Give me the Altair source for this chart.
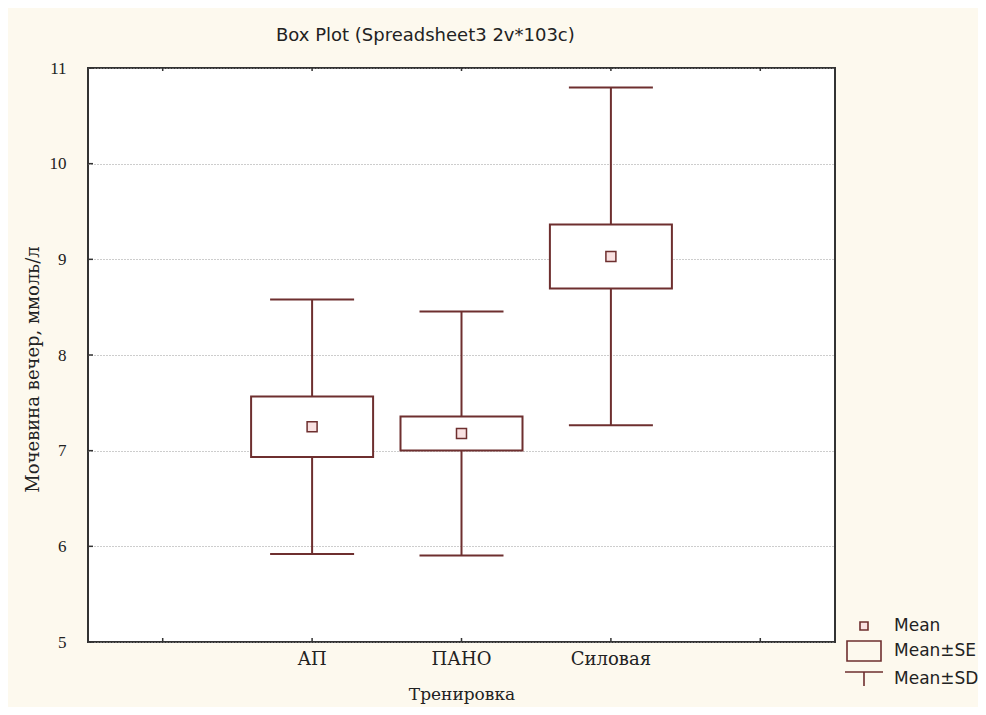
import altair as alt
import pandas as pd

# ---- data ----
categories = ["АП", "ПАНО", "Силовая"]
means = [7.25, 7.18, 9.03]
se = [0.315, 0.178, 0.335]
sd = [1.33, 1.275, 1.765]

slots = ["L0", "АП", "ПАНО", "Силовая", "R0"]   # two empty slots at the ends
y_ticks = [5, 6, 7, 8, 9, 10, 11]

legend_items = ["Mean", "Mean±SE", "Mean±SD"]
legend_shapes = [
    "M-0.4,-0.4H0.4V0.4H-0.4Z",
    "M-1.7,-1H1.7V1H-1.7Z",
    "M-1.9,-0.7H1.9M0,-0.7V0.7",
]
legend_fills = ["#f9e1e1", "transparent", "transparent"]

COL = "#6e2f2f"
W, H = 747, 574
SERIF = "DejaVu Serif"
SANS = "DejaVu Sans"

df = pd.DataFrame({"cat": categories, "mean": means, "se": se, "sd": sd})
df["se_lo"] = df["mean"] - df["se"]
df["se_hi"] = df["mean"] + df["se"]
df["sd_lo"] = df["mean"] - df["sd"]
df["sd_hi"] = df["mean"] + df["sd"]
df["legend"] = "Mean"

xscale = alt.Scale(domain=slots, paddingInner=0, paddingOuter=0)
xax = alt.Axis(
    title="Тренировка",
    labelExpr="(datum.label == 'L0' || datum.label == 'R0') ? '' : datum.label",
    ticks=False, tickSize=0, domain=False, grid=False,
    labelAngle=0, labelFont=SERIF, labelFontSize=18, labelColor="#222",
    labelPadding=8, titleFont=SERIF, titleFontSize=17,
    titleFontWeight="normal", titleColor="#222", titlePadding=18,
)
yscale = alt.Scale(domain=[5, 11], nice=False, zero=False)
yax = alt.Axis(
    title="Мочевина вечер, ммоль/л", values=y_ticks, format="d",
    ticks=False, tickSize=0, domain=False, grid=True,
    gridColor="#9a9a9a", gridDash=[1, 2], gridWidth=1,
    labelFont="Liberation Serif", labelFontSize=17, labelColor="#222",
    labelPadding=22, titleFont=SERIF, titleFontSize=18,
    titleFontWeight="normal", titleColor="#222", titlePadding=7,
    titleY=H / 2 + 14,
)

base = alt.Chart(df)

whisk = base.mark_rule(color=COL, strokeWidth=2).encode(
    x=alt.X("cat:N", scale=xscale, axis=xax, sort=slots),
    y=alt.Y("sd_lo:Q", scale=yscale, axis=yax),
    y2="sd_hi:Q",
)
box = base.mark_bar(size=122, fill="white", stroke=COL, strokeWidth=2).encode(
    x=alt.X("cat:N", scale=xscale, sort=slots),
    y=alt.Y("se_lo:Q", scale=yscale),
    y2="se_hi:Q",
)
cap_lo = base.mark_tick(size=84, thickness=2, color=COL, opacity=1).encode(
    x=alt.X("cat:N", scale=xscale, sort=slots),
    y=alt.Y("sd_lo:Q", scale=yscale),
)
cap_hi = base.mark_tick(size=84, thickness=2, color=COL, opacity=1).encode(
    x=alt.X("cat:N", scale=xscale, sort=slots),
    y=alt.Y("sd_hi:Q", scale=yscale),
)

leg = alt.Legend(
    title=None, orient="none", legendX=765, legendY=547,
    symbolSize=400, symbolStrokeColor=COL, symbolStrokeWidth=1.6,
    labelFont=SANS, labelFontSize=17, labelColor="#222",
    labelOffset=19, rowPadding=3, padding=0,
)
mean_pts = base.mark_point(size=625, strokeWidth=1.5, opacity=1, filled=False).encode(
    x=alt.X("cat:N", scale=xscale, sort=slots),
    y=alt.Y("mean:Q", scale=yscale),
    shape=alt.Shape("legend:N", scale=alt.Scale(domain=legend_items, range=legend_shapes), legend=leg),
    fill=alt.Fill("legend:N", scale=alt.Scale(domain=legend_items, range=legend_fills), legend=leg),
    stroke=alt.Stroke("legend:N", scale=alt.Scale(domain=legend_items, range=[COL, COL, COL]), legend=leg),
)

# inward tick marks on the frame
tick_df = pd.DataFrame({"slot": slots})
xt_bottom = alt.Chart(tick_df).mark_rule(color="#333", strokeWidth=1.5).encode(
    x=alt.X("slot:N", scale=xscale, sort=slots),
    y=alt.value(H), y2=alt.value(H - 4),
)
xt_top = alt.Chart(tick_df).mark_rule(color="#333", strokeWidth=1.5).encode(
    x=alt.X("slot:N", scale=xscale, sort=slots),
    y=alt.value(0), y2=alt.value(3),
)
yt_df = pd.DataFrame({"v": y_ticks})
yt_left = alt.Chart(yt_df).mark_rule(color="#333", strokeWidth=1.5).encode(
    y=alt.Y("v:Q", scale=yscale),
    x=alt.value(0), x2=alt.value(5),
)

chart = alt.layer(
    whisk, box, cap_lo, cap_hi, mean_pts, xt_bottom, xt_top, yt_left
).properties(
    width=W, height=H,
    title=alt.TitleParams(
        "Box Plot (Spreadsheet3 2v*103c)", anchor="start", dx=252, offset=14,
        font=SANS, fontSize=18, fontWeight="normal", color="#222",
    ),
    autosize=alt.AutoSizeParams(type="none"),
    padding={"left": 80, "top": 60, "right": 143, "bottom": 65},
    background="#fdf9ee",
).configure_view(
    fill="white", stroke="#333", strokeWidth=2,
)

chart.save("out.html", embed_options={"renderer": "svg", "actions": False})
